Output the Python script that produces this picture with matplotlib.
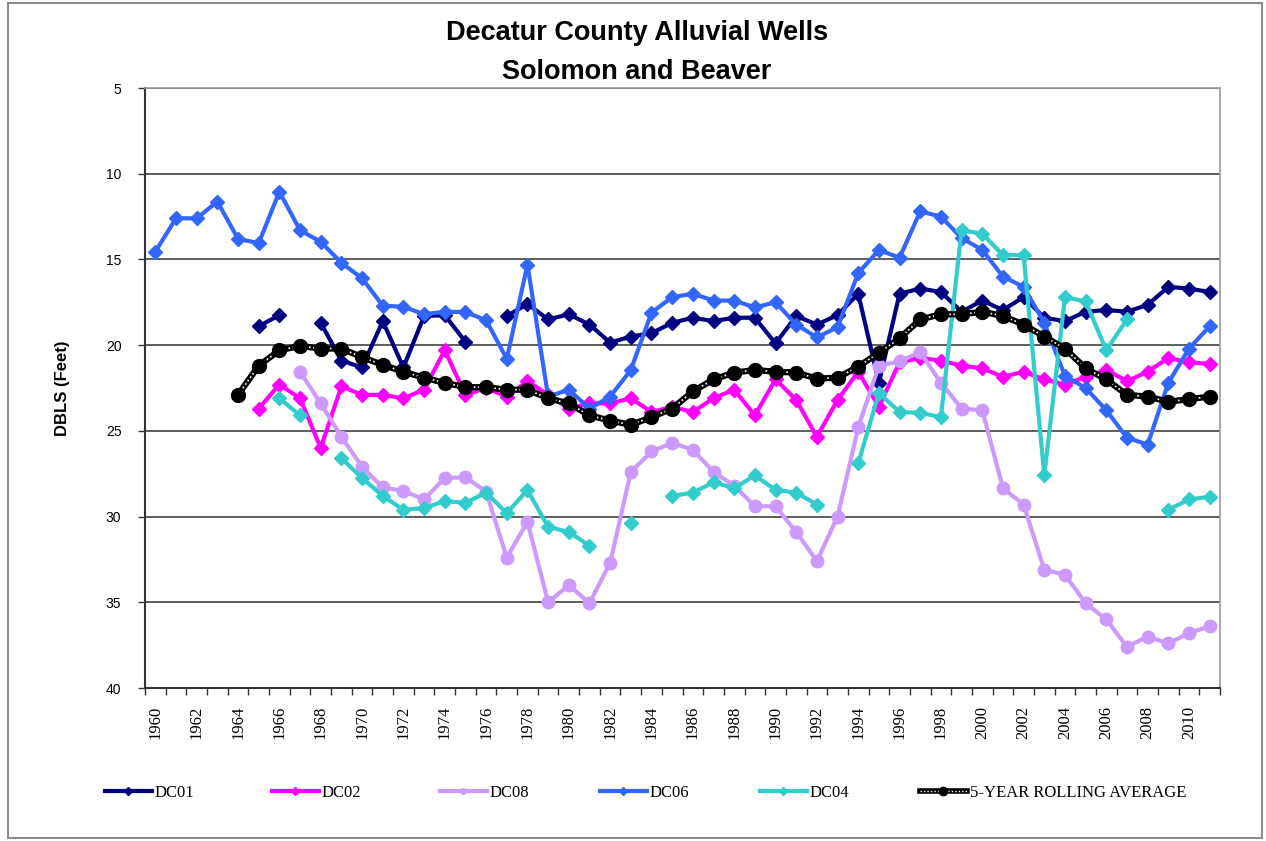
import numpy as np
import matplotlib
matplotlib.use("Agg")
import matplotlib.pyplot as plt
from matplotlib.lines import Line2D
from matplotlib.legend_handler import HandlerTuple
from matplotlib.patches import Rectangle

nan = np.nan
years = list(range(1960, 2012))

dc01 = [nan, nan, nan, nan, nan, 18.9, 18.25, nan, 18.7, 20.9, 21.3, 18.6, 21.3, 18.3, 18.25, 19.8,
        nan, 18.3, 17.6, 18.5, 18.2, 18.8, 19.85, 19.5, 19.3, 18.7, 18.4, 18.6, 18.4, 18.4, 19.9, 18.3,
        18.8, 18.25, 17.0, 22.2, 17.0, 16.7, 16.9, 18.05, 17.4, 17.95, 17.2, 18.4, 18.6, 18.05, 17.95,
        18.05, 17.65, 16.6, 16.7, 16.9]
dc02 = [nan, nan, nan, nan, nan, 23.7, 22.3, 23.1, 26.0, 22.4, 22.9, 22.9, 23.1, 22.6, 20.3, 22.9,
        22.5, 23.0, 22.1, 22.9, 23.7, 23.4, 23.4, 23.1, 23.9, 23.6, 23.9, 23.1, 22.6, 24.1, 22.0, 23.2,
        25.35, 23.2, 21.55, 23.6, 21.0, 20.75, 20.9, 21.2, 21.35, 21.85, 21.55, 22.0, 22.3, 21.85, 21.45,
        22.1, 21.55, 20.75, 21.0, 21.1]
dc08 = [nan, nan, nan, nan, nan, nan, nan, 21.55, 23.4, 25.35, 27.1, 28.3, 28.5, 29.0, 27.75, 27.7,
        28.55, 32.4, 30.3, 35.0, 34.0, 35.05, 32.7, 27.4, 26.2, 25.7, 26.1, 27.4, 28.2, 29.4, 29.4, 30.9,
        32.6, 30.0, 24.8, 21.2, 20.95, 20.4, 22.2, 23.7, 23.8, 28.35, 29.3, 33.1, 33.4, 35.05, 36.0,
        37.6, 37.0, 37.4, 36.8, 36.4]
dc06 = [14.55, 12.6, 12.6, 11.63, 13.8, 14.05, 11.05, 13.3, 13.97, 15.2, 16.1, 17.7, 17.76, 18.2, 18.05,
        18.07, 18.55, 20.8, 15.3, 23.0, 22.6, 23.7, 23.0, 21.45, 18.1, 17.2, 17.0, 17.4, 17.4, 17.8, 17.5,
        18.8, 19.55, 18.95, 15.8, 14.45, 14.9, 12.2, 12.5, 13.75, 14.45, 16.0, 16.6, 18.7, 21.8, 22.5,
        23.8, 25.4, 25.8, 22.2, 20.2, 18.9]
dc04 = [nan, nan, nan, nan, nan, nan, 23.1, 24.1, nan, 26.6, 27.75, 28.8, 29.6, 29.5, 29.1, 29.2,
        28.6, 29.8, 28.45, 30.6, 30.9, 31.7, nan, 30.4, nan, 28.8, 28.6, 28.0, 28.35, 27.6, 28.45, 28.6,
        29.3, nan, 26.9, 22.8, 23.9, 23.95, 24.2, 13.3, 13.5, 14.75, 14.75, 27.6, 17.2, 17.45, 20.3,
        18.5, nan, 29.6, 29.0, 28.85]
avg5 = [nan, nan, nan, nan, 22.9, 21.2, 20.3, 20.05, 20.2, 20.2, 20.7, 21.15, 21.55, 21.9, 22.2, 22.45,
        22.45, 22.6, 22.6, 23.1, 23.4, 24.1, 24.4, 24.65, 24.2, 23.7, 22.7, 22.0, 21.6, 21.45, 21.55,
        21.6, 21.95, 21.9, 21.25, 20.45, 19.6, 18.5, 18.2, 18.2, 18.05, 18.3, 18.8, 19.5, 20.2, 21.35,
        22.0, 22.9, 23.0, 23.3, 23.15, 23.0]

series = [("DC01", dc01, "#000080", "D"),
          ("DC02", dc02, "#FF00FF", "D"),
          ("DC08", dc08, "#CC99FF", "o"),
          ("DC06", dc06, "#3366FF", "D"),
          ("DC04", dc04, "#33CCCC", "D")]

W, H = 1266, 841
fig = plt.figure(figsize=(W / 100, H / 100), dpi=100)
fig.patch.set_facecolor("white")

# outer chart border
fig.patches.append(Rectangle((8 / W, 3 / H), (1262 - 8) / W, (838 - 3) / H,
                             transform=fig.transFigure, fill=False,
                             edgecolor="#8c8c8c", lw=1.5))

L, R, T, B = 145, 1220, 88, 688
ax = fig.add_axes([L / W, 1 - B / H, (R - L) / W, (B - T) / H])

x = np.arange(len(years))
for name, vals, col, mk in series:
    ms = 9 if mk == "o" else 7
    ax.plot(x, np.array(vals, dtype=float), color=col, lw=3, marker=mk,
            markersize=ms, markeredgecolor=col, zorder=3)

av = np.array(avg5, dtype=float)
ax.plot(x, av, color="black", lw=4.5, zorder=4)
ax.plot(x, av, color="white", lw=1.2, ls=(0, (1, 1.5)), zorder=5)
ax.plot(x, av, color="black", lw=0, marker="o", markersize=10, zorder=6)

ax.set_xlim(-0.5, len(years) - 0.5)
ax.set_ylim(40, 5)
ax.set_yticks(range(5, 41, 5))
ax.grid(axis="y", color="#505050", lw=1.3)
ax.set_axisbelow(True)

ax.set_xticks(x[::2])
ax.set_xticklabels([str(y) for y in years[::2]], rotation=90,
                   family=["Liberation Serif", "DejaVu Serif"], fontsize=12)
ax.set_xticks(np.arange(-0.5, len(years), 1.0), minor=True)
ax.tick_params(axis="x", which="major", length=0, pad=13)
ax.tick_params(axis="x", which="minor", length=5, width=1, color="#333333", direction="out")
ax.tick_params(axis="y", length=5, width=1, color="#333333", labelsize=10, pad=12)
for lab in ax.get_yticklabels():
    lab.set_family(["Liberation Sans", "DejaVu Sans"])

for s in ["left", "bottom"]:
    ax.spines[s].set_color("#333333")
    ax.spines[s].set_linewidth(1.5)
for s in ["top", "right"]:
    ax.spines[s].set_color("#999999")
    ax.spines[s].set_linewidth(1.2)

ax.set_ylabel("DBLS (Feet)", fontsize=12, fontweight="bold",
              family=["Liberation Sans", "DejaVu Sans"], labelpad=26)

fig.text(637 / W, 1 - 33 / H, "Decatur County Alluvial Wells", ha="center", va="center",
         fontsize=19.5, fontweight="bold", family=["Liberation Sans", "DejaVu Sans"])
fig.text(637 / W, 1 - 72 / H, "Solomon and Beaver", ha="center", va="center",
         fontsize=19.5, fontweight="bold", family=["Liberation Sans", "DejaVu Sans"])

# legend: one entry each at its own position
leg_x = [105, 272, 440, 600, 760, 920]
leg_y = 1 - 793 / H
handles = []
for name, vals, col, mk in series:
    handles.append((Line2D([], [], color=col, lw=3, marker=mk, markersize=4), name))
hb = Line2D([], [], color="black", lw=4)
hw = Line2D([], [], color="white", lw=1, ls=(0, (1, 1.5)))
hm = Line2D([], [], color="black", lw=0, marker="o", markersize=6)
handles.append(((hb, hw, hm), "5-YEAR ROLLING AVERAGE"))

for (h, lab), px in zip(handles, leg_x):
    lg = fig.legend([h], [lab], loc="center left", bbox_to_anchor=(px / W, leg_y),
                    frameon=False, borderpad=0, borderaxespad=0, handlelength=2.8,
                    handletextpad=0.2, prop={"family": ["Liberation Serif", "DejaVu Serif"], "size": 12},
                    handler_map={tuple: HandlerTuple(ndivide=1)})

fig.savefig("out.png", dpi=100, facecolor="white")
